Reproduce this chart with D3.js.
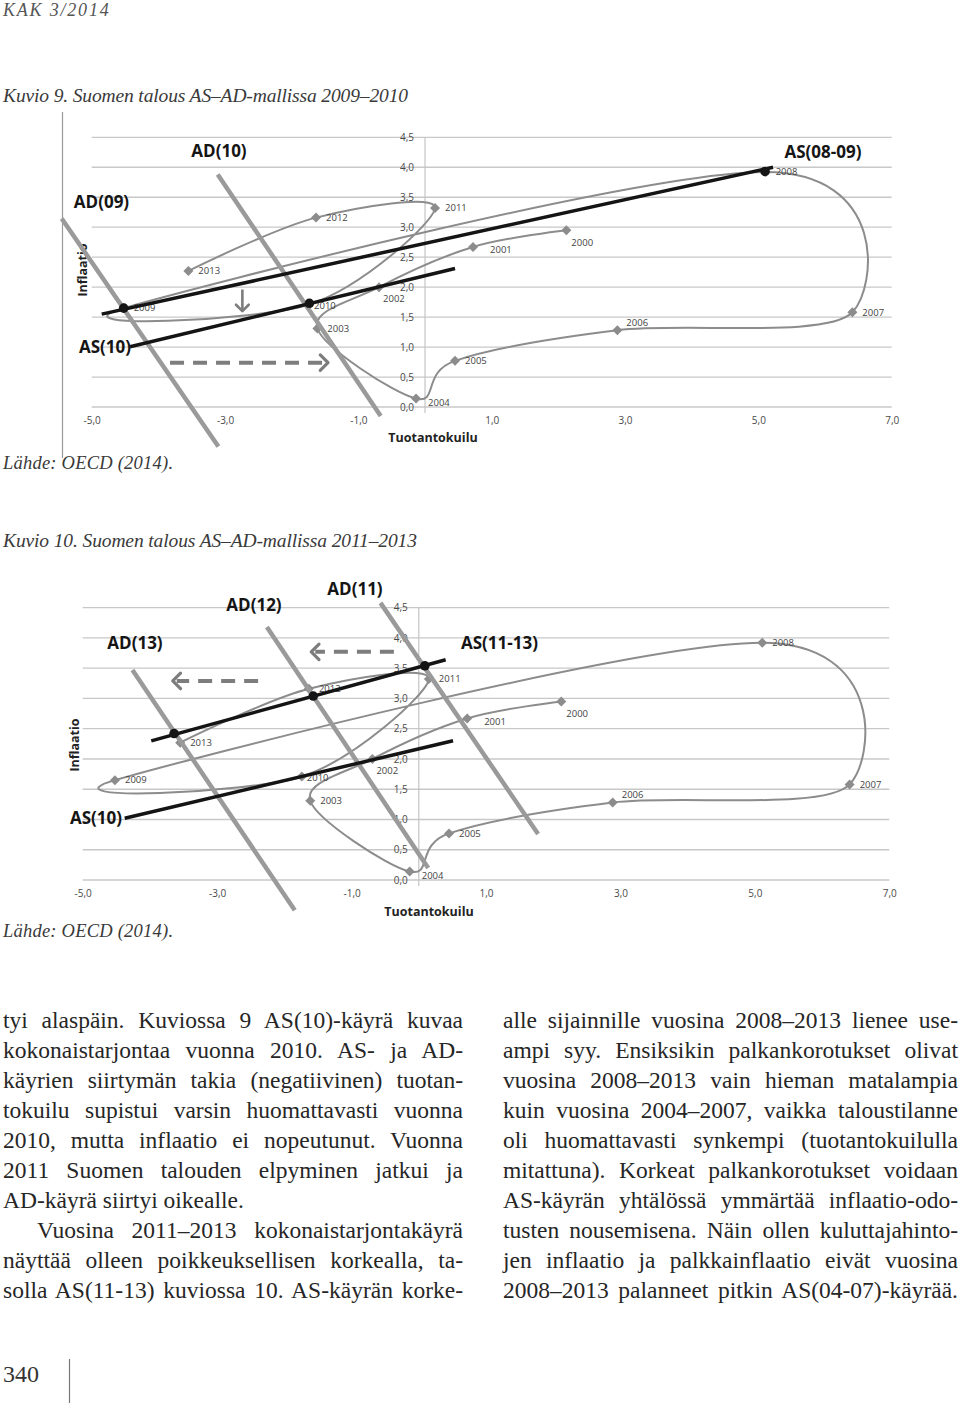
<!DOCTYPE html>
<html><head><meta charset="utf-8">
<script src="https://cdn.jsdelivr.net/npm/d3@7"></script>
<style>body{margin:0;background:#fff}svg{display:block}</style>
</head><body>
<svg id="page" width="960" height="1408"></svg>
<script>
// ---------------- DATA ----------------
const years      = [2000, 2001, 2002, 2003, 2004, 2005, 2006, 2007, 2008, 2009, 2010, 2011, 2012, 2013];
const outputGap  = [2.12, 0.72, -0.69, -1.615, -0.135, 0.45, 2.885, 6.41, 5.11, -4.52, -1.74, 0.15, -1.635, -3.55];
const inflation  = [2.95, 2.67, 2.00, 1.31, 0.14, 0.77, 1.28, 1.58, 3.92, 1.65, 1.71, 3.32, 3.16, 2.27];
const labelPlacement = ["below","rightWide","belowRight","right","rightLow","right","above","right","right","right","near","right","right","right"];
const xTicks = [-5, -3, -1, 1, 3, 5, 7];
const yTicks = [0, 0.5, 1, 1.5, 2, 2.5, 3, 3.5, 4, 4.5];

// Kuvio 9 curves
const fig9LineNames = ["AD(09)", "AD(10)", "AS(10)", "AS(08-09)"];
const fig9LineKind  = ["AD", "AD", "AS", "AS"];
const fig9LineStart = [[-5.45, 3.145], [-3.11, 3.88], [-4.425, 1.005], [-4.85, 1.55]];
const fig9LineEnd   = [[-3.10, -0.66], [-0.665, -0.15], [0.45, 2.31], [5.22, 4.00]];
const fig9Equilibria = [[-4.52, 1.65], [-1.735, 1.73], [5.1, 3.93]];

// Kuvio 10 curves
const fig10LineNames = ["AD(11)", "AD(12)", "AD(13)", "AS(10)", "AS(11-13)"];
const fig10LineKind  = ["AD", "AD", "AD", "AS", "AS"];
const fig10LineStart = [[-0.57, 4.58], [-2.26, 4.18], [-4.26, 3.47], [-4.375, 1.02], [-3.98, 2.30]];
const fig10LineEnd   = [[1.775, 0.76], [0.14, 0.20], [-1.845, -0.50], [0.51, 2.30], [0.40, 3.64]];
const fig10Equilibria = [[-3.64, 2.42], [-1.57, 3.04], [0.09, 3.54]];

// ---------------- LAYOUT ----------------
const serif = "'Liberation Serif','DejaVu Serif',serif";
const sans  = "'Open Sans','Noto Sans','Liberation Sans',sans-serif";
const labelOffsets = {right:[10,0], below:[5,12], belowRight:[4,12], above:[9,-8], rightWide:[17,3], rightLow:[12,4], near:[5,1]};
const fmt = d3.formatLocale({decimal:",", thousands:" ", grouping:[3], currency:["","€"], minus:"-"}).format(".1f");

const svg = d3.select("#page");

const fig9 = {
  left: 91.7, right: 891.7, top: 137.3, bottom: 407,
  frame: {x: 62.5, y1: 112, y2: 458},
  names: fig9LineNames, kinds: fig9LineKind, starts: fig9LineStart, ends: fig9LineEnd, eq: fig9Equilibria,
  labels: [["AD(10)",219,151],["AD(09)",101.5,202],["AS(10)",105,347],["AS(08-09)",823,152]],
  yTitle: [83, 270], xTitle: [433, 438],
  dashed: [[[-3.825,0.74],[-1.455,0.74]]],
  down: [[-2.74,1.96],[-2.74,1.60]]
};
const fig10 = {
  left: 82.7, right: 889.3, top: 607.7, bottom: 880,
  frame: null,
  names: fig10LineNames, kinds: fig10LineKind, starts: fig10LineStart, ends: fig10LineEnd, eq: fig10Equilibria,
  labels: [["AD(11)",355,589],["AD(12)",254,605],["AD(13)",135,643],["AS(10)",96,818],["AS(11-13)",499.5,643.5]],
  yTitle: [75, 745], xTitle: [429, 912],
  dashed: [[[-0.37,3.77],[-1.60,3.77]], [[-2.39,3.29],[-3.66,3.29]]],
  down: null
};

function chevron(g, tip, angle, len, color, width) {
  const a1 = angle + Math.PI - Math.PI/4, a2 = angle + Math.PI + Math.PI/4;
  const p = [[tip[0] + len*Math.cos(a1), tip[1] + len*Math.sin(a1)], tip, [tip[0] + len*Math.cos(a2), tip[1] + len*Math.sin(a2)]];
  g.append("path").attr("d", d3.line()(p)).attr("fill","none").attr("stroke",color).attr("stroke-width",width).attr("stroke-linecap","round").attr("stroke-linejoin","round");
}

function drawChart(cfg) {
  const g = svg.append("g");
  const x = d3.scaleLinear().domain([-5, 7]).range([cfg.left, cfg.right]);
  const y = d3.scaleLinear().domain([0, 4.5]).range([cfg.bottom, cfg.top]);

  if (cfg.frame) g.append("line").attr("x1",cfg.frame.x).attr("x2",cfg.frame.x).attr("y1",cfg.frame.y1).attr("y2",cfg.frame.y2).attr("stroke","#9a9a9a").attr("stroke-width",1.2);

  // gridlines
  g.append("g").selectAll("line").data(yTicks).join("line")
    .attr("x1", x(-5)).attr("x2", x(7)).attr("y1", d => y(d)).attr("y2", d => y(d))
    .attr("stroke", "#c8c8c8").attr("stroke-width", 1.3);
  // vertical axis at zero
  g.append("line").attr("x1", x(0)).attr("x2", x(0)).attr("y1", y(4.5)).attr("y2", y(0) + 6)
    .attr("stroke", "#c4c4c4").attr("stroke-width", 1.2);

  // tick labels
  const ya = g.append("g").attr("transform", `translate(${x(0)},0)`)
    .call(d3.axisLeft(y).tickValues(yTicks).tickFormat(fmt).tickSize(0).tickPadding(11));
  ya.select(".domain").remove();
  ya.selectAll("text").attr("font-family", sans).attr("font-size", 10).attr("fill", "#4a4a4a");
  const xa = g.append("g").attr("transform", `translate(0,${y(0)})`)
    .call(d3.axisBottom(x).tickValues(xTicks).tickFormat(fmt).tickSize(0).tickPadding(10));
  xa.select(".domain").remove();
  xa.selectAll("text").attr("font-family", sans).attr("font-size", 10).attr("fill", "#4a4a4a");

  // axis titles
  g.append("text").attr("transform", `translate(${cfg.yTitle[0]},${cfg.yTitle[1]}) rotate(-90)`)
    .attr("text-anchor","middle").attr("dy","0.35em").attr("font-family",sans).attr("font-weight","bold").attr("font-size",12.5).attr("fill","#222").text("Inflaatio");
  g.append("text").attr("x", cfg.xTitle[0]).attr("y", cfg.xTitle[1]).attr("dy","0.35em")
    .attr("text-anchor","middle").attr("font-family",sans).attr("font-weight","bold").attr("font-size",12.5).attr("fill","#222").text("Tuotantokuilu");

  // data curve
  const pts = years.map((yr, i) => [x(outputGap[i]), y(inflation[i])]);
  g.append("path").attr("d", d3.line().curve(d3.curveCardinal.tension(0))(pts))
    .attr("fill","none").attr("stroke","#8c8c8c").attr("stroke-width",2);
  g.append("g").selectAll("path").data(pts).join("path")
    .attr("transform", d => `translate(${d[0]},${d[1]})`)
    .attr("d", "M0,-5L5,0L0,5L-5,0Z").attr("fill","#8c8c8c");
  g.append("g").selectAll("text").data(years).join("text")
    .attr("x", (d, i) => pts[i][0] + labelOffsets[labelPlacement[i]][0])
    .attr("y", (d, i) => pts[i][1] + labelOffsets[labelPlacement[i]][1])
    .attr("dy","0.35em").attr("font-family",sans).attr("font-size",9.5).attr("fill","#444").text(d => d);

  // AD / AS lines
  const idx = cfg.names.map((n, i) => i);
  const adIdx = idx.filter(i => cfg.kinds[i] === "AD");
  const asIdx = idx.filter(i => cfg.kinds[i] === "AS");
  g.append("g").selectAll("line").data(adIdx).join("line")
    .attr("x1", i => x(cfg.starts[i][0])).attr("y1", i => y(cfg.starts[i][1]))
    .attr("x2", i => x(cfg.ends[i][0])).attr("y2", i => y(cfg.ends[i][1]))
    .attr("stroke","#9a9a9a").attr("stroke-width",4.5);
  g.append("g").selectAll("line").data(asIdx).join("line")
    .attr("x1", i => x(cfg.starts[i][0])).attr("y1", i => y(cfg.starts[i][1]))
    .attr("x2", i => x(cfg.ends[i][0])).attr("y2", i => y(cfg.ends[i][1]))
    .attr("stroke","#141414").attr("stroke-width",3.5);
  g.append("g").selectAll("circle").data(cfg.eq).join("circle")
    .attr("cx", d => x(d[0])).attr("cy", d => y(d[1])).attr("r", 4.8).attr("fill","#151515");

  // arrows
  cfg.dashed.forEach(a => {
    const p0 = [x(a[0][0]), y(a[0][1])], p1 = [x(a[1][0]), y(a[1][1])];
    const dir = Math.sign(p1[0] - p0[0]);
    g.append("line").attr("x1",p0[0]).attr("y1",p0[1]).attr("x2",p1[0] - dir*4).attr("y2",p1[1])
      .attr("stroke","#7d7d7d").attr("stroke-width",4).attr("stroke-dasharray","14,9");
    chevron(g, p1, dir > 0 ? 0 : Math.PI, 11, "#7d7d7d", 3.2);
  });
  if (cfg.down) {
    const p0 = [x(cfg.down[0][0]), y(cfg.down[0][1])], p1 = [x(cfg.down[1][0]), y(cfg.down[1][1])];
    g.append("line").attr("x1",p0[0]).attr("y1",p0[1]).attr("x2",p1[0]).attr("y2",p1[1])
      .attr("stroke","#7d7d7d").attr("stroke-width",2.6);
    chevron(g, p1, Math.PI/2, 9, "#7d7d7d", 2.6);
  }

  // curve names
  g.append("g").selectAll("text").data(cfg.labels).join("text")
    .attr("x", d => d[1]).attr("y", d => d[2]).attr("dy","0.35em").attr("text-anchor","middle")
    .attr("font-family",sans).attr("font-weight","bold").attr("font-size",17).attr("fill","#151515")
    .text(d => d[0]);
}

// ---------------- PAGE TEXT ----------------
svg.append("text").attr("x",3).attr("y",16).attr("font-family",serif).attr("font-style","italic")
  .attr("font-size",18).attr("letter-spacing",1.8).attr("fill","#555").text("KAK 3/2014");

function fitText(txt, x, y, w, size, italic, color) {
  svg.append("text").attr("x",x).attr("y",y).attr("font-family",serif)
    .attr("font-style", italic ? "italic" : "normal").attr("font-size",size).attr("fill",color)
    .attr("textLength", w).attr("lengthAdjust","spacing").text(txt);
}
fitText("Kuvio 9. Suomen talous AS–AD-mallissa 2009–2010", 3, 102, 405, 19.5, true, "#3a3a3a");
fitText("Lähde: OECD (2014).", 3, 469, 170, 18.5, true, "#3a3a3a");
fitText("Kuvio 10. Suomen talous AS–AD-mallissa 2011–2013", 3, 547, 414, 19.5, true, "#3a3a3a");
fitText("Lähde: OECD (2014).", 3, 937, 170, 18.5, true, "#3a3a3a");

drawChart(fig9);
drawChart(fig10);

const leftLines = [
  "tyi alaspäin. Kuviossa 9 AS(10)-käyrä kuvaa",
  "kokonaistarjontaa vuonna 2010. AS- ja AD-",
  "käyrien siirtymän takia (negatiivinen) tuotan-",
  "tokuilu supistui varsin huomattavasti vuonna",
  "2010, mutta inflaatio ei nopeutunut. Vuonna",
  "2011 Suomen talouden elpyminen jatkui ja",
  "AD-käyrä siirtyi oikealle.",
  "Vuosina 2011–2013 kokonaistarjontakäyrä",
  "näyttää olleen poikkeuksellisen korkealla, ta-",
  "solla AS(11-13) kuviossa 10. AS-käyrän korke-"
];
const rightLines = [
  "alle sijainnille vuosina 2008–2013 lienee use-",
  "ampi syy. Ensiksikin palkankorotukset olivat",
  "vuosina 2008–2013 vain hieman matalampia",
  "kuin vuosina 2004–2007, vaikka taloustilanne",
  "oli huomattavasti synkempi (tuotantokuilulla",
  "mitattuna). Korkeat palkankorotukset voidaan",
  "AS-käyrän yhtälössä ymmärtää inflaatio-odo-",
  "tusten nousemisena. Näin ollen kuluttajahinto-",
  "jen inflaatio ja palkkainflaatio eivät vuosina",
  "2008–2013 palanneet pitkin AS(04-07)-käyrää."
];
const leftLast = [6];      // paragraph end lines (not justified)
const leftIndent = [7];    // paragraph start lines (indented)

function column(lines, x0, width, lastIdx, indentIdx) {
  lines.forEach((ln, i) => {
    const ind = indentIdx.includes(i) ? 34 : 0;
    const t = svg.append("text").attr("x", x0 + ind).attr("y", 1028 + 30*i)
      .attr("font-family", serif).attr("font-size", 23.5).attr("fill", "#262626").text(ln);
    if (!lastIdx.includes(i)) {
      const w = width - ind;
      const nat = t.node().getComputedTextLength();
      const spaces = (ln.match(/ /g) || []).length;
      if (nat < w && spaces > 0) t.attr("word-spacing", (w - nat) / spaces);
      else t.attr("textLength", w).attr("lengthAdjust", "spacing");
    }
  });
}
column(leftLines, 3, 460, leftLast, leftIndent);
column(rightLines, 503, 455, [], []);

svg.append("text").attr("x",3).attr("y",1382).attr("font-family",serif).attr("font-size",24).attr("fill","#333").text("340");
svg.append("line").attr("x1",69.5).attr("x2",69.5).attr("y1",1359).attr("y2",1403).attr("stroke","#777").attr("stroke-width",1.2);
</script>
</body></html>
